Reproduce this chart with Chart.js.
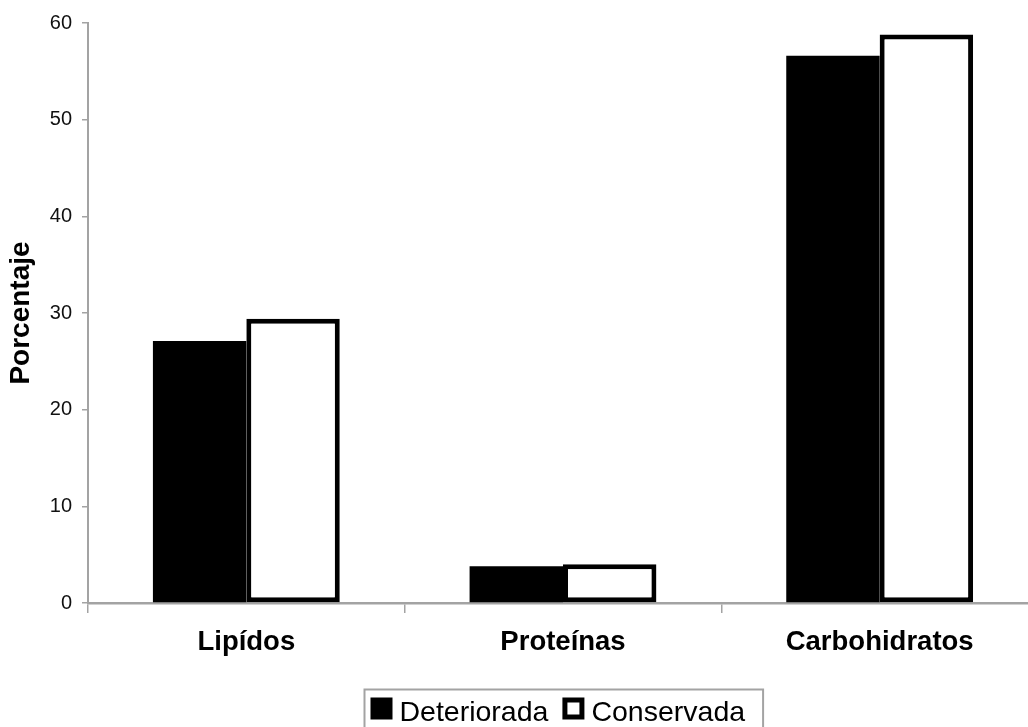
<!DOCTYPE html>
<html>
<head>
<meta charset="utf-8">
<style>
  html, body { margin: 0; padding: 0; background: #fff; overflow: hidden; }
  #wrap { width: 1040px; height: 727px; }
</style>
<script src="https://cdn.jsdelivr.net/npm/chart.js@4/dist/chart.umd.min.js"></script>
</head>
<body>
<div id="wrap"><canvas id="c" width="1040" height="727"></canvas></div>
<script>
// Composición de la muestra (%)
const categorias = ['Lipídos', 'Proteínas', 'Carbohidratos'];
const deteriorada = [27.1, 3.8, 56.6];
const conservada = [29.4, 4.0, 58.8];
const ticksY = [0, 10, 20, 30, 40, 50, 60];

const FONT = '"Liberation Sans", Arial, Helvetica, sans-serif';
const GRIS = '#a3a3a3';

// Leyenda con recuadro, centrada bajo el área del gráfico
const leyendaRecuadro = {
  id: 'leyendaRecuadro',
  afterDraw(chart) {
    const { ctx, chartArea } = chart;
    const items = chart.data.datasets;
    ctx.save();
    ctx.font = '28.5px ' + FONT;
    const sq = 22, gapTxt = 7, gapItem = 14, padL = 6, padR = 18;
    let total = padL + padR;
    items.forEach((ds, i) => {
      total += sq + gapTxt + ctx.measureText(ds.label).width;
      if (i < items.length - 1) total += gapItem;
    });
    const cx = (chartArea.left + chartArea.right) / 2;
    const left = Math.round(cx - total / 2) + 0.5;
    const top = chartArea.bottom + 86.5;
    ctx.strokeStyle = GRIS;
    ctx.lineWidth = 2;
    ctx.strokeRect(left, top, total, 60);
    let x = left + padL;
    const sqTop = top + 8;
    items.forEach((ds) => {
      ctx.fillStyle = ds.borderColor;
      ctx.fillRect(x, sqTop, sq, sq);
      if (ds.backgroundColor !== ds.borderColor) {
        ctx.fillStyle = ds.backgroundColor;
        ctx.fillRect(x + 5, sqTop + 5, sq - 10, sq - 10);
      }
      x += sq + gapTxt;
      ctx.fillStyle = '#000';
      ctx.textBaseline = 'alphabetic';
      ctx.textAlign = 'left';
      ctx.fillText(ds.label, x, sqTop + 23);
      x += ctx.measureText(ds.label).width + gapItem;
    });
    ctx.restore();
  }
};

new Chart(document.getElementById('c'), {
  type: 'bar',
  data: {
    labels: categorias,
    datasets: [
      {
        label: 'Deteriorada',
        data: deteriorada,
        backgroundColor: '#000000',
        borderColor: '#000000',
        borderWidth: 0,
        categoryPercentage: 0.59,
        barPercentage: 1.0
      },
      {
        label: 'Conservada',
        data: conservada,
        backgroundColor: '#ffffff',
        borderColor: '#000000',
        borderWidth: 5,
        borderSkipped: false,
        categoryPercentage: 0.59,
        barPercentage: 1.0
      }
    ]
  },
  options: {
    responsive: false,
    animation: false,
    devicePixelRatio: 1,
    layout: { padding: { top: 23, right: 2, left: 0, bottom: 0 } },
    plugins: {
      legend: { display: false },
      tooltip: { enabled: false }
    },
    scales: {
      x: {
        offset: true,
        grid: {
          offset: true,
          drawOnChartArea: false,
          drawTicks: true,
          tickLength: 10,
          color: GRIS,
          lineWidth: 1.5
        },
        border: { color: GRIS, width: 2.5 },
        ticks: {
          color: '#000',
          padding: 13,
          font: { family: FONT, size: 27.5, weight: 'bold' }
        },
        afterFit(scale) { scale.height = 124; }
      },
      y: {
        min: 0,
        max: 60,
        afterBuildTicks(scale) { scale.ticks = ticksY.map(v => ({ value: v })); },
        grid: {
          drawOnChartArea: false,
          drawTicks: true,
          tickLength: 6,
          color: GRIS,
          lineWidth: 1.5
        },
        border: { color: GRIS, width: 2 },
        ticks: {
          color: '#111',
          padding: 10,
          font: { family: FONT, size: 20 }
        },
        title: {
          display: true,
          text: 'Porcentaje',
          color: '#000',
          padding: { top: 4, bottom: 0 },
          font: { family: FONT, size: 28, weight: 'bold' }
        },
        afterFit(scale) { scale.width = 88; }
      }
    }
  },
  plugins: [leyendaRecuadro]
});
</script>
</body>
</html>
